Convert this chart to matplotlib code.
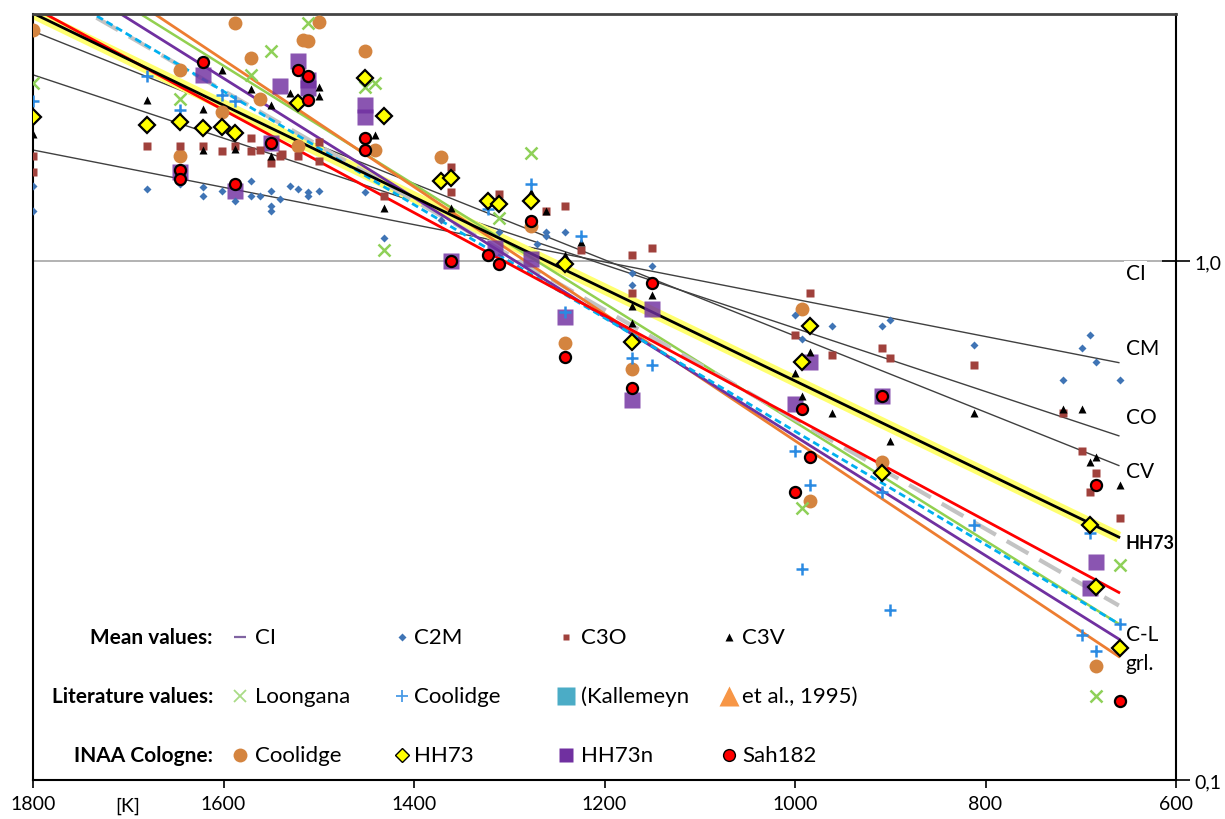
import matplotlib
matplotlib.use('Agg')
import matplotlib.pyplot as plt
from matplotlib.ticker import FixedLocator, NullLocator

plt.rcParams['font.family'] = ['Lato', 'DejaVu Sans']

# ---- mean values (T [K], normalised abundance) ----
c2m_t = [1800, 1800, 1680, 1646, 1622, 1622, 1602, 1588, 1571, 1571, 1562, 1550, 1550, 1550,
         1541, 1530, 1522, 1511, 1511, 1500, 1451, 1431, 1372, 1311, 1271, 1261, 1261, 1241,
         1171, 1171, 1150, 1000, 993, 961, 909, 900, 812, 719, 699, 690, 684, 659]
c2m_v = [1.40, 1.25, 1.38, 1.41, 1.39, 1.34, 1.37, 1.31, 1.43, 1.34, 1.34, 1.37, 1.28, 1.25,
         1.32, 1.40, 1.38, 1.36, 1.34, 1.37, 1.36, 1.11, 1.20, 1.14, 1.08, 1.14, 1.12, 1.14,
         0.95, 0.90, 0.98, 0.79, 0.71, 0.75, 0.75, 0.77, 0.69, 0.59, 0.68, 0.72, 0.64, 0.59]

c3o_t = [1800, 1800, 1680, 1646, 1622, 1602, 1588, 1571, 1571, 1562, 1550, 1541, 1539, 1522,
         1500, 1500, 1431, 1361, 1361, 1311, 1261, 1241, 1225, 1171, 1150, 1171, 984, 1000,
         961, 909, 900, 812, 719, 699, 684, 690, 659]
c3o_v = [1.60, 1.49, 1.67, 1.67, 1.67, 1.63, 1.67, 1.63, 1.73, 1.64, 1.55, 1.60, 1.61, 1.60,
         1.70, 1.56, 1.34, 1.52, 1.36, 1.35, 1.25, 1.28, 1.05, 1.03, 1.06, 0.87, 0.87, 0.72,
         0.66, 0.68, 0.65, 0.63, 0.51, 0.43, 0.39, 0.36, 0.32]

c3v_t = [1800, 1680, 1622, 1622, 1602, 1588, 1571, 1550, 1550, 1530, 1500, 1500, 1441, 1431,
         1361, 1277, 1261, 1225, 1241, 1171, 1171, 1150, 984, 1000, 993, 961, 900, 812, 719,
         699, 690, 684, 659]
c3v_v = [1.76, 2.05, 1.97, 1.64, 2.34, 1.65, 2.15, 2.00, 1.60, 2.11, 2.17, 2.08, 1.75, 1.27,
         1.27, 1.36, 1.25, 1.09, 1.03, 0.82, 0.76, 0.86, 0.67, 0.61, 0.55, 0.51, 0.45, 0.51, 0.52,
         0.52, 0.41, 0.42, 0.37]

# ---- literature values ----
loong_t = [1800, 1646, 1571, 1550, 1511, 1451, 1441, 1431, 1277, 1311, 993, 659, 684]
loong_v = [2.21, 2.06, 2.29, 2.54, 2.88, 2.17, 2.21, 1.05, 1.62, 1.21, 0.335, 0.26, 0.145]

cool_lit_t = [1800, 1680, 1646, 1602, 1588, 1322, 1277, 1225, 1241, 1171, 1150, 1000, 984,
              909, 993, 900, 812, 690, 699, 684, 659]
cool_lit_v = [2.04, 2.28, 1.96, 2.09, 2.04, 1.26, 1.41, 1.12, 0.80, 0.65, 0.63, 0.43, 0.37,
              0.36, 0.255, 0.213, 0.31, 0.30, 0.19, 0.177, 0.20]

# ---- INAA Cologne ----
cool_t = [1800, 1646, 1646, 1588, 1571, 1602, 1562, 1522, 1500, 1517, 1511, 1451, 1441, 1372,
          1277, 1241, 1171, 993, 984, 909, 684]
cool_v = [2.79, 2.34, 1.60, 2.88, 2.47, 1.94, 2.06, 1.67, 2.90, 2.67, 2.66, 2.54, 1.64, 1.59,
          1.17, 0.695, 0.62, 0.81, 0.345, 0.41, 0.166]

hh73_t = [1800, 1680, 1646, 1622, 1602, 1588, 1522, 1451, 1432, 1372, 1361, 1322, 1311, 1277,
          1241, 1171, 984, 993, 909, 690, 684, 659]
hh73_v = [1.90, 1.83, 1.86, 1.81, 1.82, 1.77, 2.02, 2.26, 1.91, 1.43, 1.45, 1.31, 1.29, 1.31,
          0.99, 0.70, 0.75, 0.64, 0.39, 0.31, 0.236, 0.18]

hh73n_t = [1646, 1622, 1588, 1550, 1541, 1522, 1511, 1511, 1451, 1451, 1361, 1315, 1277, 1241,
           1171, 1150, 984, 1000, 909, 684, 690]
hh73n_v = [1.49, 2.29, 1.37, 1.69, 2.18, 2.44, 2.24, 2.16, 2.00, 1.90, 1.00, 1.06, 1.01, 0.78,
           0.54, 0.81, 0.64, 0.53, 0.55, 0.263, 0.235]

sah_t = [1646, 1646, 1622, 1588, 1550, 1522, 1511, 1511, 1451, 1451, 1361, 1322, 1311, 1277,
         1241, 1171, 1150, 993, 984, 1000, 909, 684, 659]
sah_v = [1.50, 1.44, 2.42, 1.41, 1.69, 2.34, 2.28, 2.05, 1.73, 1.64, 1.00, 1.03, 0.99, 1.195,
         0.655, 0.57, 0.91, 0.52, 0.42, 0.36, 0.55, 0.37, 0.142]

# ---- fitted lines: value at 1800 K and at 660 K ----
line_t = [1800, 660]
cm_line = [1.64, 0.638]
co_line = [2.29, 0.461]
cv_line = [2.78, 0.404]
hh73_line = [3.01, 0.294]
red_line = [3.09, 0.230]
gray_line = [3.47, 0.217]
cyan_line = [3.52, 0.200]
green_line = [4.04, 0.200]
purple_line = [3.83, 0.187]
orange_line = [4.30, 0.173]

# right-hand labels
end_labels = ['CI', 'CM', 'CO', 'CV', 'HH73', 'C-L', 'grl.']
end_label_v = [0.952, 0.682, 0.502, 0.395, 0.287, 0.191, 0.168]

x_ticks = [1800, 1600, 1400, 1200, 1000, 800, 600]

# colours
c_c2m = '#3F74B5'
c_c3o = '#A0413C'
c_loong = '#8ED058'
c_cool_lit = '#2A8AE2'
c_cool = '#D4843F'
c_purple = '#7030A0'

fig = plt.figure(figsize=(12.25, 8.2), dpi=100)
W, H = 1225, 820
ax = fig.add_axes([33 / W, 1 - 781 / H, (1176 - 33) / W, (781 - 15) / H])

ax.set_yscale('log')
ax.set_xlim(1800, 600)
ax.set_ylim(0.1, 3.0)

# CI reference line
ax.axhline(1.0, color='#A6A6A6', lw=1.2, zorder=1)

# lines
for vals in (cm_line, co_line, cv_line):
    ax.plot(line_t, vals, color='#404040', lw=1.0, zorder=2)
ax.plot(line_t, hh73_line, color='#FFFF70', lw=8, zorder=2, solid_capstyle='butt')
ax.plot(line_t, green_line, color='#92D050', lw=1.8, zorder=2.1)
ax.plot(line_t, gray_line, color='#C3C3C3', lw=3, ls=(0, (6, 3)), zorder=2.1)
ax.plot(line_t, orange_line, color='#ED7D31', lw=2, zorder=2.2)
ax.plot(line_t, purple_line, color=c_purple, lw=2, zorder=2.2)
ax.plot(line_t, cyan_line, color='#00B0F0', lw=2, ls=(0, (2.5, 1.5)), zorder=2.3)
ax.plot(line_t, red_line, color='#FF0000', lw=2, zorder=2.3)
ax.plot(line_t, hh73_line, color='black', lw=2, zorder=2.4)

# points
ax.plot(cool_t, cool_v, 'o', color=c_cool, ms=10, mec='none', zorder=3)
ax.plot(hh73n_t, hh73n_v, 's', color=c_purple, alpha=0.82, ms=11.5, mec='none', zorder=3.1)
ax.plot(c2m_t, c2m_v, 'D', color=c_c2m, ms=4.5, mec='none', zorder=3.2)
ax.plot(c3o_t, c3o_v, 's', color=c_c3o, ms=5.5, mec='none', zorder=3.2)
ax.plot(c3v_t, c3v_v, '^', color='black', ms=6, mec='none', zorder=3.2)
ax.plot(loong_t, loong_v, 'x', color=c_loong, ms=8, mew=1.8, zorder=3.3)
ax.plot(cool_lit_t, cool_lit_v, '+', color=c_cool_lit, ms=9, mew=1.8, zorder=3.3)
ax.plot(hh73_t, hh73_v, 'D', color='#FFFF00', ms=8.5, mec='black', mew=1.6, zorder=3.4)
ax.plot(sah_t, sah_v, 'o', color='#FF0000', ms=8, mec='black', mew=1.6, zorder=3.5)

# labels at the right end of the lines
for lab, v in zip(end_labels, end_label_v):
    if lab == 'HH73':
        ax.text(653, v, lab, fontsize=13, fontweight='bold', ha='left', va='center', zorder=5)
    elif lab == 'CI':
        ax.text(653, v, lab, fontsize=15, ha='left', va='center', zorder=5,
                bbox=dict(facecolor='white', edgecolor='none', pad=1))
    else:
        ax.text(653, v, lab, fontsize=15, ha='left', va='center', zorder=5)

# axes styling
for side in ('left', 'right', 'bottom'):
    ax.spines[side].set_linewidth(1.5)
    ax.spines[side].set_color('black')
ax.spines['top'].set_linewidth(2)
ax.spines['top'].set_color('#444444')

ax.xaxis.set_major_locator(FixedLocator(x_ticks))
ax.set_xticklabels([str(t) for t in x_ticks])
ax.tick_params(axis='x', direction='out', length=6, width=1.2, labelsize=14, pad=5)
ax.yaxis.tick_right()
ax.yaxis.set_major_locator(FixedLocator([0.1, 1.0]))
ax.yaxis.set_minor_locator(NullLocator())
ax.set_yticklabels(['0,1', '1,0'])
ax.tick_params(axis='y', which='major', direction='inout', length=20, width=1.2,
               labelsize=14, pad=3)
fig.text(128 / W, 1 - 806 / H, '[K]', fontsize=14, ha='center', va='center')

# legend block (manual layout)
lax = fig.add_axes([0, 0, 1, 1])
lax.set_xlim(0, W)
lax.set_ylim(H, 0)
lax.axis('off')
lax.patch.set_alpha(0)

row_y = [638, 697, 756]
row_titles = ['Mean values:', 'Literature values:', 'INAA Cologne:']
for y, t in zip(row_y, row_titles):
    lax.text(213, y, t, fontsize=15, fontweight='bold', ha='right', va='center')

col_mx = [240, 402, 566, 729]
col_tx = [255, 414, 581, 742]
leg = [
    [('_', '#8064A2', 9, dict(mew=1.6), 'CI'),
     ('D', c_c2m, 4, dict(mec='none'), 'C2M'),
     ('s', c_c3o, 5, dict(mec='none'), 'C3O'),
     ('^', 'black', 5.5, dict(mec='none'), 'C3V')],
    [('x', '#A9DB86', 8, dict(mew=1.3), 'Loongana'),
     ('+', '#4A9BE6', 9, dict(mew=1.3), 'Coolidge'),
     ('s', '#4BACC6', 13, dict(mec='none'), '(Kallemeyn'),
     ('^', '#F79646', 14, dict(mec='none'), 'et al., 1995)')],
    [('o', c_cool, 10, dict(mec='none'), 'Coolidge'),
     ('D', '#FFFF00', 7.5, dict(mec='black', mew=1.0), 'HH73'),
     ('s', c_purple, 10, dict(mec='none'), 'HH73n'),
     ('o', '#FF0000', 8.5, dict(mec='black', mew=1.0), 'Sah182')],
]
for y, row in zip(row_y, leg):
    for mx, tx, (m, c, s, kw, lab) in zip(col_mx, col_tx, row):
        lax.plot([mx], [y], m, color=c, ms=s, **kw)
        lax.text(tx, y, lab, fontsize=16, ha='left', va='center')

fig.savefig('out.png', dpi=100)
